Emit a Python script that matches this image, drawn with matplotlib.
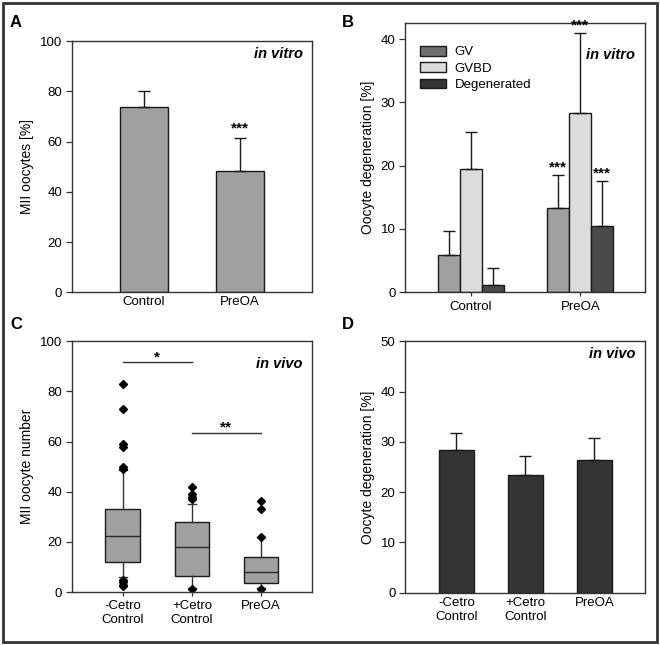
import numpy as np
import matplotlib.pyplot as plt
from matplotlib.patches import Patch

plt.rcParams['font.family'] = ['Liberation Sans', 'DejaVu Sans']
plt.rcParams['font.size'] = 9.5

# panel A: in vitro MII oocytes
a_groups = ['Control', 'PreOA']
a_mean = [73.8, 48.1]
a_err = [6.2, 13.3]

# panel B: in vitro degeneration
b_groups = ['Control', 'PreOA']
b_series = ['GV', 'GVBD', 'Degenerated']
b_gv = [5.8, 13.3]
b_gv_err = [3.9, 5.2]
b_gvbd = [19.5, 28.3]
b_gvbd_err = [5.8, 12.6]
b_deg = [1.2, 10.5]
b_deg_err = [2.7, 7.1]

# panel C: in vivo MII oocyte number (box plot stats)
c_groups = ['-Cetro\nControl', '+Cetro\nControl', 'PreOA']
c_q1 = [12.0, 6.3, 3.7]
c_med = [22.2, 18.1, 8.2]
c_q3 = [33.2, 27.8, 13.8]
c_whislo = [6.0, 1.5, 1.5]
c_whishi = [48.5, 35.3, 22.0]
c_fliers = [[83, 73, 59, 58, 50, 49, 5, 4, 3, 2.5],
            [42, 39.3, 38, 37, 1.2],
            [36.2, 33, 22, 1.2]]

# panel D: in vivo degeneration
d_groups = ['-Cetro\nControl', '+Cetro\nControl', 'PreOA']
d_mean = [28.3, 23.4, 26.3]
d_err = [3.4, 3.8, 4.5]

mid_gray = '#a0a0a0'
light_gray = '#dcdcdc'
dark_gray = '#4a4a4a'
darkest = '#333333'
edge = '#1a1a1a'
spine_c = '#333333'


def style_axes(ax):
    for s in ax.spines.values():
        s.set_color(spine_c)
        s.set_linewidth(1.0)
    ax.tick_params(direction='out', length=4, width=0.9, color=spine_c,
                   labelsize=9.5, pad=3)


def up_err(ax, x, y, e):
    ax.errorbar(x, y, yerr=[np.zeros(len(e)), e], fmt='none',
                ecolor=edge, elinewidth=1.0, capsize=4, capthick=1.0)


def stars(ax, x, y, s, dy):
    ax.annotate(s, (x, y), xytext=(0, dy), textcoords='offset points',
                ha='center', va='baseline', fontsize=11, fontweight='bold')


def tag(ax, s, yfrac):
    ax.text(0.96, yfrac, s, transform=ax.transAxes, ha='right', va='center',
            fontsize=10.5, fontweight='bold', fontstyle='italic')


fig = plt.figure(figsize=(6.6, 6.45), dpi=100)

# ---------- A ----------
axA = fig.add_axes([0.109, 0.547, 0.364, 0.389])
xa = np.arange(len(a_groups))
axA.bar(xa, a_mean, width=0.5, color=mid_gray, edgecolor=edge, linewidth=1.0, zorder=2)
up_err(axA, xa, a_mean, a_err)
stars(axA, xa[1], a_mean[1] + a_err[1], '***', 4)
axA.set_xlim(-0.75, 1.75)
axA.set_ylim(0, 100)
axA.set_yticks(np.arange(0, 101, 20))
axA.set_xticks(xa)
axA.set_xticklabels(a_groups)
axA.set_ylabel('MII oocytes [%]', fontsize=10)
tag(axA, 'in vitro', 0.95)
style_axes(axA)
axA.tick_params(axis='x', length=0)

# ---------- B ----------
axB = fig.add_axes([0.614, 0.547, 0.363, 0.417])
xb = np.arange(len(b_groups))
w = 0.2
cols = [mid_gray, light_gray, dark_gray]
vals = [b_gv, b_gvbd, b_deg]
errs = [b_gv_err, b_gvbd_err, b_deg_err]
for i, (v, e, c) in enumerate(zip(vals, errs, cols)):
    xs = xb + (i - 1) * w
    axB.bar(xs, v, width=w, color=c, edgecolor=edge, linewidth=1.0, zorder=2)
    up_err(axB, xs, v, e)
    stars(axB, xs[1], v[1] + e[1], '***', 2.5)
axB.set_xlim(-0.6, 1.59)
axB.set_ylim(0, 42.5)
axB.set_yticks(np.arange(0, 41, 10))
axB.set_xticks(xb)
axB.set_xticklabels(b_groups)
axB.set_ylabel('Oocyte degeneration [%]', fontsize=10)
tag(axB, 'in vitro', 0.88)
handles = [Patch(facecolor=c, edgecolor=edge, linewidth=1.0)
           for c in ['#707070', light_gray, '#333333']]
axB.legend(handles, b_series, loc='upper left', bbox_to_anchor=(0.04, 0.935),
           frameon=False, fontsize=9.5, handlelength=2.0, handleheight=0.75,
           labelspacing=0.3, handletextpad=0.6, borderaxespad=0)
style_axes(axB)
axB.tick_params(axis='x', length=3)

# ---------- C ----------
axC = fig.add_axes([0.109, 0.082, 0.364, 0.389])
stats = []
for i in range(len(c_groups)):
    stats.append(dict(med=c_med[i], q1=c_q1[i], q3=c_q3[i],
                      whislo=c_whislo[i], whishi=c_whishi[i],
                      fliers=c_fliers[i], label=c_groups[i]))
axC.bxp(stats, positions=np.arange(len(c_groups)), widths=0.5, patch_artist=True,
        boxprops=dict(facecolor=mid_gray, edgecolor=edge, linewidth=1.0),
        medianprops=dict(color='#2a2a2a', linewidth=1.0),
        whiskerprops=dict(color='#333333', linewidth=1.0),
        capprops=dict(color='#333333', linewidth=1.0),
        capwidths=0.12,
        flierprops=dict(marker='D', markerfacecolor='black', markeredgecolor='black',
                        markersize=4.5))
axC.plot([0, 1], [91.8, 91.8], color='#333333', lw=1.0)
stars(axC, 0.5, 91.8, '*', 0.5)
axC.plot([1, 2], [63.6, 63.6], color='#333333', lw=1.0)
stars(axC, 1.5, 63.6, '**', 0.5)
axC.set_xlim(-0.735, 2.74)
axC.set_ylim(0, 100)
axC.set_yticks(np.arange(0, 101, 20))
axC.set_ylabel('MII oocyte number', fontsize=10)
tag(axC, 'in vivo', 0.91)
style_axes(axC)
axC.tick_params(axis='x', length=3)

# ---------- D ----------
axD = fig.add_axes([0.614, 0.081, 0.363, 0.39])
xd = np.arange(len(d_groups))
axD.bar(xd, d_mean, width=0.5, color=darkest, edgecolor=edge, linewidth=1.0, zorder=2)
up_err(axD, xd, d_mean, d_err)
axD.set_xlim(-0.74, 2.73)
axD.set_ylim(0, 50)
axD.set_yticks(np.arange(0, 51, 10))
axD.set_xticks(xd)
axD.set_xticklabels(d_groups)
axD.set_ylabel('Oocyte degeneration [%]', fontsize=10)
tag(axD, 'in vivo', 0.95)
style_axes(axD)
axD.tick_params(axis='x', length=0)

# panel letters
for lbl, x, y in [('A', 0.015, 0.965), ('B', 0.518, 0.965),
                  ('C', 0.015, 0.497), ('D', 0.518, 0.497)]:
    fig.text(x, y, lbl, fontsize=12, fontweight='bold', va='center')

# outer frame
fig.patches.append(plt.Rectangle((0.004, 0.004), 0.992, 0.992, transform=fig.transFigure,
                                 fill=False, edgecolor='#333333', linewidth=2.0))

fig.savefig('out.png', dpi=100, facecolor='white')
